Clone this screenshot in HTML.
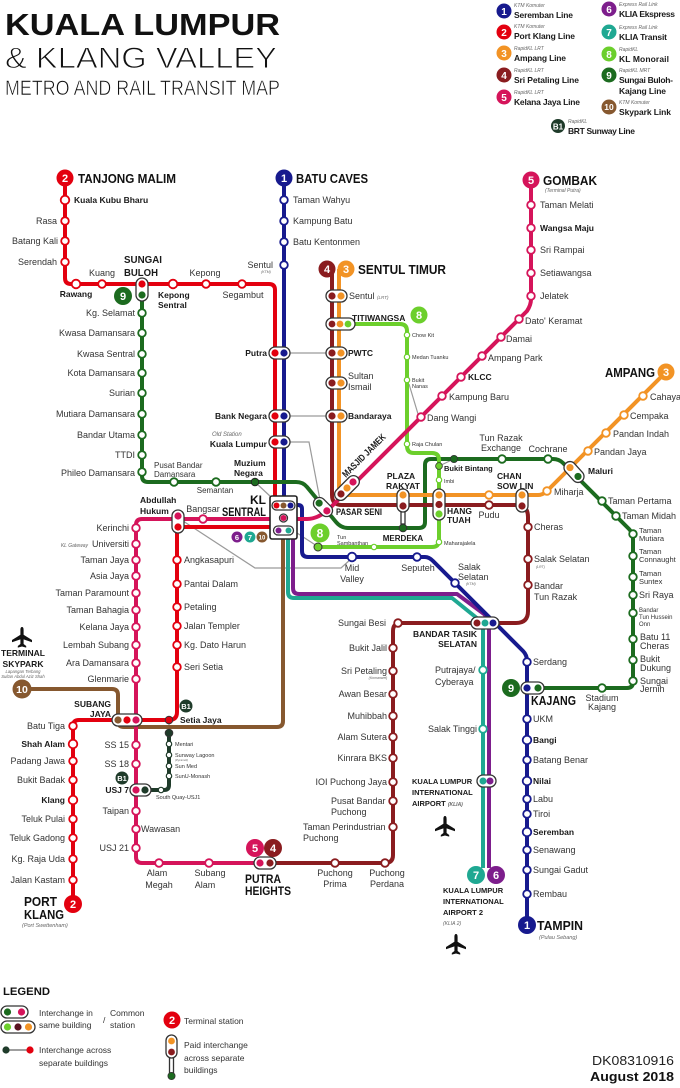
<!DOCTYPE html>
<html><head><meta charset="utf-8">
<style>
html,body{margin:0;padding:0;background:#fff;}
svg{display:block}
text{font-family:"Liberation Sans",Arial,sans-serif;fill:#333;font-size:9px}
.b{font-weight:bold;fill:#1a1a1a;font-size:8.5px}
.e{text-anchor:end}
.m{text-anchor:middle}
.t{font-size:5.5px}
.i{font-style:italic;font-size:5px;fill:#666}
.T{font-weight:bold;fill:#111;font-size:13px}
.bn{font-weight:bold;fill:#fff;font-size:11px;text-anchor:middle}
.ln{fill:none;stroke-width:4;stroke-linejoin:round}
.st{fill:#fff;stroke-width:1.8}
.ss{fill:#fff;stroke-width:1.2}
.pl{fill:#fff;stroke:#333;stroke-width:1.3}
.gc{fill:none;stroke:#9a9a9a;stroke-width:1.2}
.lg{font-size:8.5px;fill:#333}
</style></head><body>
<svg xmlns="http://www.w3.org/2000/svg" width="680" height="1088" viewBox="0 0 680 1088">
<defs>
<path id="plane" d="M0,-10 C1.2,-10 1.6,-8.8 1.6,-7 L1.6,-2.2 L10,3 L10,5.2 L1.6,2.4 L1.6,7 L4.2,9 L4.2,10.6 L0,9.5 L-4.2,10.6 L-4.2,9 L-1.6,7 L-1.6,2.4 L-10,5.2 L-10,3 L-1.6,-2.2 L-1.6,-7 C-1.6,-8.8 -1.2,-10 0,-10 Z" fill="#111"/>
</defs>

<!-- TITLE -->
<text x="5" y="35" style="font-weight:bold;font-size:31px;fill:#111" textLength="275" lengthAdjust="spacingAndGlyphs">KUALA LUMPUR</text>
<text x="5" y="68" style="font-size:30px;fill:#111;stroke:#fff;stroke-width:0.9" textLength="272" lengthAdjust="spacingAndGlyphs">&amp; KLANG VALLEY</text>
<text x="5" y="95" style="font-size:21px;fill:#111;stroke:#fff;stroke-width:0.6" textLength="275" lengthAdjust="spacingAndGlyphs">METRO AND RAIL TRANSIT MAP</text>

<!-- TOP RIGHT LEGEND -->
<g>
<circle cx="504" cy="11" r="7.5" fill="#171a8e"/><text x="504" y="15" class="bn" style="font-size:10px">1</text>
<text x="514" y="7" class="i">KTM Komuter</text><text x="514" y="18" class="b" style="font-size:8.5px" textLength="59">Seremban Line</text>
<circle cx="504" cy="32" r="7.5" fill="#e3000f"/><text x="504" y="36" class="bn" style="font-size:10px">2</text>
<text x="514" y="28" class="i">KTM Komuter</text><text x="514" y="39" class="b" textLength="61">Port Klang Line</text>
<circle cx="504" cy="53" r="7.5" fill="#f29325"/><text x="504" y="57" class="bn" style="font-size:10px">3</text>
<text x="514" y="50" class="i">RapidKL LRT</text><text x="514" y="61" class="b" textLength="52">Ampang Line</text>
<circle cx="504" cy="75" r="7.5" fill="#8a1c1f"/><text x="504" y="79" class="bn" style="font-size:10px">4</text>
<text x="514" y="72" class="i">RapidKL LRT</text><text x="514" y="83" class="b" textLength="65">Sri Petaling Line</text>
<circle cx="504" cy="97" r="7.5" fill="#d5145a"/><text x="504" y="101" class="bn" style="font-size:10px">5</text>
<text x="514" y="94" class="i">RapidKL LRT</text><text x="514" y="105" class="b" textLength="66">Kelana Jaya Line</text>

<circle cx="609" cy="9" r="7.5" fill="#7d1e8c"/><text x="609" y="13" class="bn" style="font-size:10px">6</text>
<text x="619" y="6" class="i">Express Rail Link</text><text x="619" y="17" class="b" textLength="56">KLIA Ekspress</text>
<circle cx="609" cy="32" r="7.5" fill="#1fa892"/><text x="609" y="36" class="bn" style="font-size:10px">7</text>
<text x="619" y="29" class="i">Express Rail Link</text><text x="619" y="40" class="b" textLength="48">KLIA Transit</text>
<circle cx="609" cy="54" r="7.5" fill="#6ccf2c"/><text x="609" y="58" class="bn" style="font-size:10px">8</text>
<text x="619" y="51" class="i">RapidKL</text><text x="619" y="62" class="b" textLength="50">KL Monorail</text>
<circle cx="609" cy="75" r="7.5" fill="#1c6b1f"/><text x="609" y="79" class="bn" style="font-size:10px">9</text>
<text x="619" y="72" class="i">RapidKL MRT</text><text x="619" y="83" class="b" textLength="54">Sungai Buloh-</text>
<text x="619" y="94" class="b" textLength="47">Kajang Line</text>
<circle cx="609" cy="107" r="7.5" fill="#86582f"/><text x="609" y="110" class="bn" style="font-size:8.5px">10</text>
<text x="619" y="104" class="i">KTM Komuter</text><text x="619" y="115" class="b" textLength="52">Skypark Link</text>
<circle cx="558" cy="126" r="7" fill="#1f3b2a"/><text x="558" y="129.5" class="bn" style="font-size:8px">B1</text>
<text x="568" y="123" class="i">RapidKL</text><text x="568" y="134" class="b" textLength="67">BRT Sunway Line</text>
</g>

<!-- GRAY CONNECTORS -->
<g class="gc">
<path d="M288,353 H329"/>
<path d="M288,416 H329"/>
<path d="M288,442 H309 L320,500"/>
<path d="M256,483 L271,497"/>
<path d="M180,519 L255,568 H341 L351,559"/>
<path d="M297,533 L317,546"/>
<path d="M409,384 L418,414"/>
<path d="M169,720 V733"/>
<path d="M439,466 L454,459"/>
</g>

<!-- LINES -->
<path class="ln" stroke="#86582f" d="M22,689 H112 Q118,689 118,695 V721 Q118,727 124,727 H277 Q283,727 283,721 V530"/>
<path class="ln" stroke="#1fa892" d="M288,530 V592 Q288,598 294,598 H452 L478,619 Q483,623 483,629 V868"/>
<path class="ln" stroke="#7d1e8c" d="M293,530 V588 Q293,594 299,594 H457 L484,614 Q489,619 489,626 V868"/>
<path class="ln" stroke="#e3000f" d="M65,178 V278 Q65,284 71,284 H269 Q275,284 275,290 V527 H182 Q177,527 177,532 V712 Q177,720 169,720 H79 Q73,720 73,726 V904"/>
<path class="ln" stroke="#171a8e" d="M284,178 V505 H298 Q302,505 302,509 V551 Q302,557 308,557 H425 Q429,557 433,561 L523,651 Q527,655 527,661 V925"/>
<path class="ln" stroke="#1c6b1f" d="M142,290 V476 Q142,482 148,482 H296 Q303,482 307,487 L336,522 Q341,528 348,528 H419 Q425,528 425,522 V465 Q425,459 431,459 H553 Q559,459 563,463 L629,529 Q633,533 633,539 V682 Q633,688 627,688 H527"/>
<path class="ln" stroke="#6ccf2c" d="M348,324 H400 Q407,324 407,331 V446 Q407,453 414,453 H432 Q439,453 439,460 V540 Q439,547 432,547 H318"/>
<path class="ln" stroke="#8a1c1f" d="M332,269 V495 Q332,505 342,505 H516 Q528,505 528,517 V611 Q528,623 516,623 H401 Q393,623 393,631 V855 Q393,863 385,863 H265"/>
<path class="ln" stroke="#f29325" d="M339,269 V487 Q339,495 347,495 H538 Q542,495 546,492 L666,372"/>
<path class="ln" stroke="#d5145a" d="M531,180 V299 Q531,305 527,311 L331,507 Q319,519 307,519 H142 Q136,519 136,525 V857 Q136,863 142,863 H262"/>
<path class="ln" stroke="#1f3b2a" d="M169,733 V785 Q169,790 164,790 H145"/>

<!-- STATIONS -->
<g class="st" stroke="#e3000f">
<circle cx="65" cy="200" r="4.3"/><circle cx="65" cy="221" r="3.8"/><circle cx="65" cy="241" r="3.8"/><circle cx="65" cy="262" r="3.8"/>
<circle cx="76" cy="284" r="4.3"/><circle cx="102" cy="284" r="3.8"/><circle cx="173" cy="284" r="4.3"/><circle cx="206" cy="284" r="3.8"/><circle cx="242" cy="284" r="3.8"/>
<circle cx="177" cy="560" r="3.8"/><circle cx="177" cy="584" r="3.8"/><circle cx="177" cy="607" r="3.8"/><circle cx="177" cy="626" r="3.8"/><circle cx="177" cy="645" r="3.8"/><circle cx="177" cy="667" r="3.8"/>
<circle cx="73" cy="726" r="3.8"/><circle cx="73" cy="744" r="4.3"/><circle cx="73" cy="761" r="3.8"/><circle cx="73" cy="780" r="3.8"/><circle cx="73" cy="800" r="4.3"/><circle cx="73" cy="819" r="3.8"/><circle cx="73" cy="838" r="3.8"/><circle cx="73" cy="859" r="3.8"/><circle cx="73" cy="880" r="3.8"/>
</g>
<g class="st" stroke="#171a8e">
<circle cx="284" cy="200" r="3.8"/><circle cx="284" cy="221" r="3.8"/><circle cx="284" cy="242" r="3.8"/><circle cx="284" cy="265" r="3.8"/>
<circle cx="352" cy="557" r="4.3"/><circle cx="417" cy="557" r="3.8"/><circle cx="455" cy="583" r="3.8"/>
<circle cx="527" cy="662" r="3.8"/><circle cx="527" cy="719" r="3.8"/><circle cx="527" cy="740" r="4.3"/><circle cx="527" cy="760" r="3.8"/><circle cx="527" cy="781" r="4.3"/><circle cx="527" cy="799" r="3.8"/><circle cx="527" cy="814" r="3.8"/><circle cx="527" cy="832" r="4.3"/><circle cx="527" cy="850" r="3.8"/><circle cx="527" cy="870" r="3.8"/><circle cx="527" cy="894" r="3.8"/>
</g>
<g class="st" stroke="#1c6b1f">
<circle cx="142" cy="313" r="3.8"/><circle cx="142" cy="333" r="3.8"/><circle cx="142" cy="354" r="3.8"/><circle cx="142" cy="373" r="3.8"/><circle cx="142" cy="393" r="3.8"/><circle cx="142" cy="414" r="3.8"/><circle cx="142" cy="435" r="3.8"/><circle cx="142" cy="455" r="3.8"/><circle cx="142" cy="472" r="3.8"/>
<circle cx="174" cy="482" r="3.8"/><circle cx="216" cy="482" r="3.8"/>
<circle cx="502" cy="459" r="3.8"/><circle cx="548" cy="459" r="3.8"/>
<circle cx="602" cy="501" r="3.8"/><circle cx="616" cy="516" r="3.8"/><circle cx="633" cy="534" r="3.8"/><circle cx="633" cy="556" r="3.8"/><circle cx="633" cy="577" r="3.8"/><circle cx="633" cy="595" r="3.8"/><circle cx="633" cy="613" r="3.8"/><circle cx="633" cy="639" r="3.8"/><circle cx="633" cy="660" r="3.8"/><circle cx="633" cy="681" r="3.8"/>
<circle cx="602" cy="688" r="3.8"/>
</g>
<g class="st" stroke="#d5145a">
<circle cx="531" cy="205" r="3.8"/><circle cx="531" cy="228" r="3.8"/><circle cx="531" cy="250" r="3.8"/><circle cx="531" cy="273" r="3.8"/><circle cx="531" cy="296" r="3.8"/>
<circle cx="519" cy="319" r="3.8"/><circle cx="501" cy="337" r="3.8"/><circle cx="482" cy="356" r="3.8"/><circle cx="461" cy="377" r="3.8"/><circle cx="442" cy="396" r="3.8"/><circle cx="421" cy="417" r="3.8"/>
<circle cx="203" cy="519" r="3.8"/>
<circle cx="136" cy="528" r="3.8"/><circle cx="136" cy="544" r="3.8"/><circle cx="136" cy="560" r="3.8"/><circle cx="136" cy="576" r="3.8"/><circle cx="136" cy="593" r="3.8"/><circle cx="136" cy="610" r="3.8"/><circle cx="136" cy="627" r="3.8"/><circle cx="136" cy="645" r="3.8"/><circle cx="136" cy="663" r="3.8"/><circle cx="136" cy="679" r="3.8"/>
<circle cx="136" cy="745" r="3.8"/><circle cx="136" cy="764" r="3.8"/><circle cx="136" cy="811" r="3.8"/><circle cx="136" cy="829" r="3.8"/><circle cx="136" cy="848" r="3.8"/>
<circle cx="159" cy="863" r="3.8"/><circle cx="209" cy="863" r="3.8"/>
</g>
<g class="st" stroke="#8a1c1f">
<circle cx="489" cy="505" r="3.8"/><circle cx="528" cy="527" r="3.8"/><circle cx="528" cy="559" r="3.8"/><circle cx="528" cy="585" r="3.8"/>
<circle cx="398" cy="623" r="3.8"/><circle cx="393" cy="648" r="3.8"/><circle cx="393" cy="671" r="3.8"/><circle cx="393" cy="694" r="3.8"/><circle cx="393" cy="716" r="3.8"/><circle cx="393" cy="737" r="3.8"/><circle cx="393" cy="758" r="3.8"/><circle cx="393" cy="782" r="3.8"/><circle cx="393" cy="801" r="3.8"/><circle cx="393" cy="827" r="3.8"/>
<circle cx="385" cy="863" r="3.8"/><circle cx="335" cy="863" r="3.8"/>
</g>
<g class="st" stroke="#f29325">
<circle cx="489" cy="495" r="3.8"/><circle cx="547" cy="491" r="3.8"/><circle cx="588" cy="451" r="3.8"/><circle cx="606" cy="433" r="3.8"/><circle cx="624" cy="415" r="3.8"/><circle cx="643" cy="396" r="3.8"/>
</g>
<g class="st" stroke="#1fa892">
<circle cx="483" cy="670" r="3.8"/><circle cx="483" cy="729" r="3.8"/>
</g>
<g class="ss" stroke="#6ccf2c">
<circle cx="407" cy="335" r="2.7"/><circle cx="407" cy="357" r="2.7"/><circle cx="407" cy="380" r="2.7"/><circle cx="407" cy="444" r="2.7"/><circle cx="439" cy="480" r="2.7"/><circle cx="439" cy="542" r="2.7"/><circle cx="374" cy="547" r="2.7"/>
</g>
<g class="ss" stroke="#1f3b2a">
<circle cx="169" cy="744" r="2.7"/><circle cx="169" cy="755" r="2.7"/><circle cx="169" cy="766" r="2.7"/><circle cx="169" cy="776" r="2.7"/><circle cx="161" cy="790" r="2.7"/>
</g>

<!-- INTERCHANGE PILLS -->
<g>
<rect x="136" y="278" width="12" height="23" rx="6" class="pl"/><circle cx="142" cy="284" r="3.6" fill="#e3000f"/><circle cx="142" cy="295" r="3.6" fill="#1c6b1f"/>
<rect x="269" y="347" width="21" height="12" rx="6" class="pl"/><circle cx="275" cy="353" r="3.6" fill="#e3000f"/><circle cx="284" cy="353" r="3.6" fill="#171a8e"/>
<rect x="269" y="410" width="21" height="12" rx="6" class="pl"/><circle cx="275" cy="416" r="3.6" fill="#e3000f"/><circle cx="284" cy="416" r="3.6" fill="#171a8e"/>
<rect x="269" y="436" width="21" height="12" rx="6" class="pl"/><circle cx="275" cy="442" r="3.6" fill="#e3000f"/><circle cx="284" cy="442" r="3.6" fill="#171a8e"/>
<rect x="326" y="290" width="21" height="12" rx="6" class="pl"/><circle cx="332" cy="296" r="3.6" fill="#8a1c1f"/><circle cx="341" cy="296" r="3.6" fill="#f29325"/>
<rect x="326" y="318" width="29" height="12" rx="6" class="pl"/><circle cx="332" cy="324" r="3.4" fill="#8a1c1f"/><circle cx="340" cy="324" r="3.4" fill="#f29325"/><circle cx="348" cy="324" r="3.4" fill="#6ccf2c"/>
<rect x="326" y="347" width="21" height="12" rx="6" class="pl"/><circle cx="332" cy="353" r="3.6" fill="#8a1c1f"/><circle cx="341" cy="353" r="3.6" fill="#f29325"/>
<rect x="326" y="377" width="21" height="12" rx="6" class="pl"/><circle cx="332" cy="383" r="3.6" fill="#8a1c1f"/><circle cx="341" cy="383" r="3.6" fill="#f29325"/>
<rect x="326" y="410" width="21" height="12" rx="6" class="pl"/><circle cx="332" cy="416" r="3.6" fill="#8a1c1f"/><circle cx="341" cy="416" r="3.6" fill="#f29325"/>
<g transform="translate(347,488) rotate(-45)"><rect x="-15" y="-6" width="30" height="12" rx="6" class="pl"/><circle cx="-8.5" cy="0" r="3.6" fill="#8a1c1f"/><circle cx="0" cy="0" r="3.6" fill="#f29325"/><circle cx="8.5" cy="0" r="3.6" fill="#d5145a"/></g>
<g transform="translate(323,507) rotate(45)"><rect x="-11" y="-6" width="22" height="12" rx="6" class="pl"/><circle cx="-5.5" cy="0" r="3.6" fill="#1c6b1f"/><circle cx="5.5" cy="0" r="3.6" fill="#d5145a"/></g>
<rect x="401" y="510" width="4" height="14" class="pl"/>
<rect x="397" y="489" width="12" height="23" rx="6" class="pl"/><circle cx="403" cy="495" r="3.6" fill="#f29325"/><circle cx="403" cy="506" r="3.6" fill="#8a1c1f"/>
<circle cx="403" cy="528" r="3.8" fill="#1c6b1f" stroke="#333" stroke-width="1"/>
<rect x="433" y="489" width="12" height="31" rx="6" class="pl"/><circle cx="439" cy="495" r="3.6" fill="#f29325"/><circle cx="439" cy="504.5" r="3.6" fill="#8a1c1f"/><circle cx="439" cy="514" r="3.6" fill="#6ccf2c"/>
<rect x="516" y="489" width="12" height="23" rx="6" class="pl"/><circle cx="522" cy="495" r="3.6" fill="#f29325"/><circle cx="522" cy="506" r="3.6" fill="#8a1c1f"/>
<g transform="translate(574,472) rotate(48)"><rect x="-12" y="-6" width="24" height="12" rx="6" class="pl"/><circle cx="-6" cy="0" r="3.6" fill="#f29325"/><circle cx="6" cy="0" r="3.6" fill="#1c6b1f"/></g>
<circle cx="454" cy="459" r="3.6" fill="#1c6b1f" stroke="#333" stroke-width="0.8"/>
<circle cx="439" cy="466" r="3.4" fill="#6ccf2c" stroke="#333" stroke-width="0.8"/>
<circle cx="255" cy="482" r="3.8" fill="#1c6b1f" stroke="#222" stroke-width="1"/>
<circle cx="318" cy="547" r="4" fill="#6ccf2c" stroke="#333" stroke-width="1"/>
<rect x="172" y="510" width="12" height="23" rx="6" class="pl"/><circle cx="178" cy="516" r="3.6" fill="#d5145a"/><circle cx="178" cy="527" r="3.6" fill="#e3000f"/>
<rect x="112" y="714" width="30" height="12" rx="6" class="pl"/><circle cx="118" cy="720" r="3.6" fill="#86582f"/><circle cx="127" cy="720" r="3.6" fill="#e3000f"/><circle cx="136" cy="720" r="3.6" fill="#d5145a"/>
<circle cx="169" cy="720" r="3.8" fill="#e3000f" stroke="#333" stroke-width="1"/>
<circle cx="169" cy="733" r="3.8" fill="#1f3b2a" stroke="#333" stroke-width="1"/>
<rect x="130" y="784" width="21" height="12" rx="6" class="pl"/><circle cx="136" cy="790" r="3.6" fill="#d5145a"/><circle cx="145" cy="790" r="3.6" fill="#1f3b2a"/>
<rect x="254" y="857" width="22" height="12" rx="6" class="pl"/><circle cx="260" cy="863" r="3.6" fill="#d5145a"/><circle cx="270" cy="863" r="3.6" fill="#8a1c1f"/>
<rect x="471" y="617" width="28" height="12" rx="6" class="pl"/><circle cx="477" cy="623" r="3.5" fill="#8a1c1f"/><circle cx="485" cy="623" r="3.5" fill="#1fa892"/><circle cx="493" cy="623" r="3.5" fill="#171a8e"/>
<rect x="477" y="775" width="19" height="12" rx="6" class="pl"/><circle cx="483" cy="781" r="3.5" fill="#1fa892"/><circle cx="490" cy="781" r="3.5" fill="#7d1e8c"/>
<rect x="521" y="682" width="23" height="12" rx="6" class="pl"/><circle cx="527" cy="688" r="3.6" fill="#171a8e"/><circle cx="538" cy="688" r="3.6" fill="#1c6b1f"/>
<!-- KL Sentral box -->
<rect x="270" y="496" width="27" height="43" rx="2" fill="#fff" stroke="#222" stroke-width="1.6"/>
<rect x="272" y="501" width="23" height="9" rx="4.5" class="pl" stroke-width="0.9"/>
<circle cx="276.5" cy="505.5" r="3" fill="#e3000f"/><circle cx="283.5" cy="505.5" r="3" fill="#86582f"/><circle cx="290.5" cy="505.5" r="3" fill="#171a8e"/>
<circle cx="283.5" cy="518" r="4" class="pl" stroke-width="0.9"/><circle cx="283.5" cy="518" r="3" fill="#d5145a"/>
<rect x="273.5" y="526" width="20" height="9" rx="4.5" class="pl" stroke-width="0.9"/>
<circle cx="278.5" cy="530.5" r="3" fill="#7d1e8c"/><circle cx="288.5" cy="530.5" r="3" fill="#1fa892"/>
</g>

<!-- BADGES -->
<g>
<circle cx="65" cy="178" r="8.5" fill="#e3000f"/><text x="65" y="182" class="bn">2</text>
<circle cx="284" cy="178" r="8.5" fill="#171a8e"/><text x="284" y="182" class="bn">1</text>
<circle cx="327" cy="269" r="8.5" fill="#8a1c1f"/><text x="327" y="273" class="bn">4</text>
<circle cx="346" cy="269" r="8.5" fill="#f29325"/><text x="346" y="273" class="bn">3</text>
<circle cx="531" cy="180" r="8.5" fill="#d5145a"/><text x="531" y="184" class="bn">5</text>
<circle cx="419" cy="315" r="8.5" fill="#6ccf2c"/><text x="419" y="319" class="bn">8</text>
<circle cx="666" cy="372" r="8.5" fill="#f29325"/><text x="666" y="376" class="bn">3</text>
<circle cx="123" cy="296" r="9" fill="#1c6b1f"/><text x="123" y="300" class="bn">9</text>
<circle cx="320" cy="533" r="9.5" fill="#6ccf2c"/><text x="320" y="537.5" class="bn" style="font-size:12px">8</text>
<circle cx="237" cy="537" r="5.5" fill="#7d1e8c"/><text x="237" y="540" class="bn" style="font-size:7.5px">6</text>
<circle cx="250" cy="537" r="5.5" fill="#1fa892"/><text x="250" y="540" class="bn" style="font-size:7.5px">7</text>
<circle cx="262" cy="537" r="5.5" fill="#86582f"/><text x="262" y="539.5" class="bn" style="font-size:6px">10</text>
<circle cx="22" cy="689" r="9.5" fill="#86582f"/><text x="22" y="693" class="bn" style="font-size:10.5px">10</text>
<circle cx="186" cy="706" r="6.5" fill="#1f3b2a"/><text x="186" y="709" class="bn" style="font-size:7.5px">B1</text>
<circle cx="122" cy="778" r="6.5" fill="#1f3b2a"/><text x="122" y="781" class="bn" style="font-size:7.5px">B1</text>
<circle cx="511" cy="688" r="9" fill="#1c6b1f"/><text x="511" y="692" class="bn">9</text>
<circle cx="255" cy="848" r="9" fill="#d5145a"/><text x="255" y="852" class="bn">5</text>
<circle cx="273" cy="848" r="9" fill="#8a1c1f"/><text x="273" y="852" class="bn">4</text>
<circle cx="476" cy="875" r="9" fill="#1fa892"/><text x="476" y="879" class="bn">7</text>
<circle cx="496" cy="875" r="9" fill="#7d1e8c"/><text x="496" y="879" class="bn">6</text>
<circle cx="527" cy="925" r="9" fill="#171a8e"/><text x="527" y="929" class="bn">1</text>
<circle cx="73" cy="904" r="9" fill="#e3000f"/><text x="73" y="908" class="bn">2</text>
</g>

<!-- TERMINAL LABELS -->
<text x="78" y="183" class="T" textLength="98" lengthAdjust="spacingAndGlyphs">TANJONG MALIM</text>
<text x="296" y="183" class="T" textLength="72" lengthAdjust="spacingAndGlyphs">BATU CAVES</text>
<text x="358" y="274" class="T" textLength="88" lengthAdjust="spacingAndGlyphs">SENTUL TIMUR</text>
<text x="543" y="185" class="T" textLength="54" lengthAdjust="spacingAndGlyphs">GOMBAK</text>
<text x="545" y="192" class="i" style="font-size:5px">(Terminal Putra)</text>
<text x="605" y="377" class="T" textLength="50" lengthAdjust="spacingAndGlyphs">AMPANG</text>
<text x="531" y="705" class="T" textLength="45" lengthAdjust="spacingAndGlyphs">KAJANG</text>
<text x="537" y="930" class="T" textLength="46" lengthAdjust="spacingAndGlyphs">TAMPIN</text>
<text x="539" y="939" class="i" style="font-size:5.5px">(Pulau Sebang)</text>
<text x="24" y="906" class="T" textLength="33" lengthAdjust="spacingAndGlyphs">PORT</text>
<text x="24" y="919" class="T" textLength="40" lengthAdjust="spacingAndGlyphs">KLANG</text>
<text x="22" y="927" class="i" style="font-size:5.5px">(Port Swettenham)</text>
<text x="245" y="883" class="T" style="font-size:12px" textLength="36" lengthAdjust="spacingAndGlyphs">PUTRA</text>
<text x="245" y="895" class="T" style="font-size:12px" textLength="46" lengthAdjust="spacingAndGlyphs">HEIGHTS</text>
<text x="266" y="504" class="T e" style="font-size:12px">KL</text>
<text x="266" y="516" class="T e" style="font-size:12px" textLength="44" lengthAdjust="spacingAndGlyphs">SENTRAL</text>
<text x="124" y="263" class="b" style="font-size:10px" textLength="38" lengthAdjust="spacingAndGlyphs">SUNGAI</text>
<text x="124" y="276" class="b" style="font-size:10px" textLength="34" lengthAdjust="spacingAndGlyphs">BULOH</text>

<!-- LINE 2 LABELS -->
<text x="74" y="203" class="b">Kuala Kubu Bharu</text>
<text x="57" y="224" class="e">Rasa</text>
<text x="58" y="244" class="e">Batang Kali</text>
<text x="57" y="265" class="e">Serendah</text>
<text x="102" y="276" class="m">Kuang</text>
<text x="76" y="297" class="b m">Rawang</text>
<text x="158" y="298" class="b">Kepong</text>
<text x="158" y="308" class="b">Sentral</text>
<text x="205" y="276" class="m">Kepong</text>
<text x="243" y="298" class="m">Segambut</text>
<text x="273" y="268" class="e">Sentul</text>
<text x="266" y="273" class="i m" style="font-size:3.5px">(KTM)</text>
<text x="184" y="563">Angkasapuri</text>
<text x="184" y="587">Pantai Dalam</text>
<text x="184" y="610">Petaling</text>
<text x="184" y="629">Jalan Templer</text>
<text x="184" y="648">Kg. Dato Harun</text>
<text x="184" y="670">Seri Setia</text>
<text x="180" y="723" class="b">Setia Jaya</text>
<text x="65" y="729" class="e">Batu Tiga</text>
<text x="65" y="747" class="b e">Shah Alam</text>
<text x="65" y="764" class="e">Padang Jawa</text>
<text x="65" y="783" class="e">Bukit Badak</text>
<text x="65" y="803" class="b e">Klang</text>
<text x="65" y="822" class="e">Teluk Pulai</text>
<text x="65" y="841" class="e">Teluk Gadong</text>
<text x="65" y="862" class="e">Kg. Raja Uda</text>
<text x="65" y="883" class="e">Jalan Kastam</text>

<!-- LINE 1 LABELS -->
<text x="293" y="203">Taman Wahyu</text>
<text x="293" y="224">Kampung Batu</text>
<text x="293" y="245">Batu Kentonmen</text>
<text x="267" y="356" class="b e">Putra</text>
<text x="267" y="419" class="b e">Bank Negara</text>
<text x="212" y="436" class="i" style="font-size:6px">Old Station</text>
<text x="267" y="447" class="b e">Kuala Lumpur</text>
<text x="352" y="571" class="m">Mid</text>
<text x="352" y="582" class="m">Valley</text>
<text x="418" y="571" class="m">Seputeh</text>
<text x="458" y="570">Salak</text>
<text x="458" y="580">Selatan</text>
<text x="466" y="585" class="i" style="font-size:3.5px">(KTM)</text>
<text x="533" y="665">Serdang</text>
<text x="533" y="722">UKM</text>
<text x="533" y="743" class="b">Bangi</text>
<text x="533" y="763">Batang Benar</text>
<text x="533" y="784" class="b">Nilai</text>
<text x="533" y="802">Labu</text>
<text x="533" y="817">Tiroi</text>
<text x="533" y="835" class="b">Seremban</text>
<text x="533" y="853">Senawang</text>
<text x="533" y="873">Sungai Gadut</text>
<text x="533" y="897">Rembau</text>

<!-- LINE 9 LABELS -->
<text x="135" y="316" class="e">Kg. Selamat</text>
<text x="135" y="336" class="e">Kwasa Damansara</text>
<text x="135" y="357" class="e">Kwasa Sentral</text>
<text x="135" y="376" class="e">Kota Damansara</text>
<text x="135" y="396" class="e">Surian</text>
<text x="135" y="417" class="e">Mutiara Damansara</text>
<text x="135" y="438" class="e">Bandar Utama</text>
<text x="135" y="458" class="e">TTDI</text>
<text x="135" y="476" class="e">Phileo Damansara</text>
<text x="154" y="468" style="font-size:8px">Pusat Bandar</text>
<text x="154" y="477" style="font-size:8px">Damansara</text>
<text x="215" y="493" class="m" style="font-size:8px">Semantan</text>
<text x="234" y="466" class="b">Muzium</text>
<text x="234" y="476" class="b">Negara</text>
<text x="403" y="541" class="b m" style="font-size:8px">MERDEKA</text>
<text x="501" y="441" class="m">Tun Razak</text>
<text x="501" y="451" class="m">Exchange</text>
<text x="548" y="452" class="m">Cochrane</text>
<text x="588" y="474" class="b">Maluri</text>
<text x="608" y="504">Taman Pertama</text>
<text x="622" y="519">Taman Midah</text>
<text x="639" y="533" style="font-size:7.5px">Taman</text>
<text x="639" y="541" style="font-size:7.5px">Mutiara</text>
<text x="639" y="554" style="font-size:7.5px">Taman</text>
<text x="639" y="562" style="font-size:7.5px">Connaught</text>
<text x="639" y="576" style="font-size:7.5px">Taman</text>
<text x="639" y="584" style="font-size:7.5px">Suntex</text>
<text x="639" y="598">Sri Raya</text>
<text x="639" y="612" style="font-size:6px">Bandar</text>
<text x="639" y="619" style="font-size:6px">Tun Hussein</text>
<text x="639" y="626" style="font-size:6px">Onn</text>
<text x="640" y="640">Batu 11</text>
<text x="640" y="649">Cheras</text>
<text x="640" y="662">Bukit</text>
<text x="640" y="671">Dukung</text>
<text x="640" y="684">Sungai</text>
<text x="640" y="692">Jernih</text>
<text x="602" y="701" class="m">Stadium</text>
<text x="602" y="710" class="m">Kajang</text>

<!-- LINE 3/4 LABELS -->
<text x="349" y="299">Sentul <tspan class="i" style="font-size:4.5px">(LRT)</tspan></text>
<text x="352" y="321" class="b">TITIWANGSA</text>
<text x="348" y="356" class="b">PWTC</text>
<text x="348" y="379">Sultan</text>
<text x="348" y="390">Ismail</text>
<text x="348" y="419" class="b">Bandaraya</text>
<text x="346" y="478" transform="rotate(-45 346 478)" class="b" style="font-size:9.5px" textLength="57" lengthAdjust="spacingAndGlyphs">MASJID JAMEK</text>
<text x="336" y="515" class="b" style="font-size:9px" textLength="46" lengthAdjust="spacingAndGlyphs">PASAR SENI</text>
<text x="401" y="479" class="b m">PLAZA</text>
<text x="403" y="489" class="b m">RAKYAT</text>
<text x="447" y="514" class="b">HANG</text>
<text x="447" y="523" class="b">TUAH</text>
<text x="497" y="479" class="b">CHAN</text>
<text x="497" y="489" class="b">SOW LIN</text>
<text x="489" y="518" class="m">Pudu</text>
<text x="554" y="495">Miharja</text>
<text x="594" y="455">Pandan Jaya</text>
<text x="613" y="437">Pandan Indah</text>
<text x="630" y="419">Cempaka</text>
<text x="650" y="400">Cahaya</text>
<text x="534" y="530">Cheras</text>
<text x="534" y="562">Salak Selatan</text>
<text x="536" y="568" class="i" style="font-size:3.5px">(LRT)</text>
<text x="534" y="589">Bandar</text>
<text x="534" y="600">Tun Razak</text>
<text x="386" y="626" class="e">Sungai Besi</text>
<text x="477" y="637" class="b e">BANDAR TASIK</text>
<text x="477" y="647" class="b e">SELATAN</text>
<text x="387" y="651" class="e">Bukit Jalil</text>
<text x="387" y="674" class="e">Sri Petaling</text>
<text x="378" y="679" class="i m" style="font-size:3.5px">(Komanwel)</text>
<text x="387" y="697" class="e">Awan Besar</text>
<text x="387" y="719" class="e">Muhibbah</text>
<text x="387" y="740" class="e">Alam Sutera</text>
<text x="387" y="761" class="e">Kinrara BKS</text>
<text x="387" y="785" class="e">IOI Puchong Jaya</text>
<text x="331" y="804">Pusat Bandar</text>
<text x="331" y="815">Puchong</text>
<text x="303" y="830">Taman Perindustrian</text>
<text x="303" y="841">Puchong</text>
<text x="335" y="876" class="m">Puchong</text>
<text x="335" y="887" class="m">Prima</text>
<text x="387" y="876" class="m">Puchong</text>
<text x="387" y="887" class="m">Perdana</text>

<!-- MONORAIL LABELS -->
<text x="412" y="337" class="t">Chow Kit</text>
<text x="412" y="359" class="t">Medan Tuanku</text>
<text x="412" y="382" class="t">Bukit</text>
<text x="412" y="388" class="t">Nanas</text>
<text x="412" y="446" class="t">Raja Chulan</text>
<text x="444" y="471" class="b" style="font-size:7.5px">Bukit Bintang</text>
<text x="444" y="483" class="t">Imbi</text>
<text x="444" y="545" class="t">Maharajalela</text>
<text x="337" y="539" class="t">Tun</text>
<text x="337" y="545" class="t">Sambanthan</text>

<!-- LINE 5 LABELS -->
<text x="540" y="208">Taman Melati</text>
<text x="540" y="231" class="b">Wangsa Maju</text>
<text x="540" y="253">Sri Rampai</text>
<text x="540" y="276">Setiawangsa</text>
<text x="540" y="299">Jelatek</text>
<text x="525" y="324">Dato' Keramat</text>
<text x="506" y="342">Damai</text>
<text x="488" y="361">Ampang Park</text>
<text x="468" y="380" class="b">KLCC</text>
<text x="449" y="400">Kampung Baru</text>
<text x="427" y="421">Dang Wangi</text>
<text x="203" y="512" class="m">Bangsar</text>
<text x="140" y="503" class="b">Abdullah</text>
<text x="140" y="514" class="b">Hukum</text>
<text x="129" y="531" class="e">Kerinchi</text>
<text x="88" y="547" class="i e" style="font-size:5px">KL Gateway</text>
<text x="129" y="547" class="e">Universiti</text>
<text x="129" y="563" class="e">Taman Jaya</text>
<text x="129" y="579" class="e">Asia Jaya</text>
<text x="129" y="596" class="e">Taman Paramount</text>
<text x="129" y="613" class="e">Taman Bahagia</text>
<text x="129" y="630" class="e">Kelana Jaya</text>
<text x="129" y="648" class="e">Lembah Subang</text>
<text x="129" y="666" class="e">Ara Damansara</text>
<text x="129" y="682" class="e">Glenmarie</text>
<text x="111" y="707" class="b e">SUBANG</text>
<text x="111" y="717" class="b e">JAYA</text>
<text x="129" y="748" class="e">SS 15</text>
<text x="129" y="767" class="e">SS 18</text>
<text x="129" y="793" class="b e">USJ 7</text>
<text x="129" y="814" class="e">Taipan</text>
<text x="141" y="832">Wawasan</text>
<text x="129" y="851" class="e">USJ 21</text>
<text x="157" y="876" class="m">Alam</text>
<text x="159" y="888" class="m">Megah</text>
<text x="210" y="876" class="m">Subang</text>
<text x="205" y="888" class="m">Alam</text>

<!-- BRT LABELS -->
<text x="175" y="746" class="t">Mentari</text>
<text x="175" y="757" class="t">Sunway Lagoon</text>
<text x="175" y="761" class="i" style="font-size:3px">(Pyramid)</text>
<text x="175" y="768" class="t">Sun Med</text>
<text x="175" y="778" class="t">SunU-Monash</text>
<text x="156" y="799" class="t">South Quay-USJ1</text>

<!-- SKYPARK / AIRPORTS -->
<use href="#plane" transform="translate(22,637)"/>
<text x="23" y="656" class="b m">TERMINAL</text>
<text x="23" y="667" class="b m">SKYPARK</text>
<text x="23" y="673" class="i m" style="font-size:4.2px">Lapangan Terbang</text>
<text x="23" y="678" class="i m" style="font-size:4.2px">Sultan Abdul Aziz Shah</text>
<text x="435" y="673">Putrajaya/</text>
<text x="435" y="685">Cyberaya</text>
<text x="477" y="732" class="e">Salak Tinggi</text>
<text x="412" y="784" class="b" style="font-size:7.5px">KUALA LUMPUR</text>
<text x="412" y="795" class="b" style="font-size:7.5px">INTERNATIONAL</text>
<text x="412" y="806" class="b" style="font-size:7.5px">AIRPORT <tspan class="i" style="font-size:5px">(KLIA)</tspan></text>
<use href="#plane" transform="translate(445,826)"/>
<text x="443" y="893" class="b" style="font-size:7.5px">KUALA LUMPUR</text>
<text x="443" y="904" class="b" style="font-size:7.5px">INTERNATIONAL</text>
<text x="443" y="915" class="b" style="font-size:7.5px">AIRPORT 2</text>
<text x="443" y="925" class="i" style="font-size:5px">(KLIA 2)</text>
<use href="#plane" transform="translate(456,944)"/>

<!-- BOTTOM LEGEND -->
<text x="3" y="995" class="T" style="font-size:11px" textLength="47" lengthAdjust="spacingAndGlyphs">LEGEND</text>
<rect x="1" y="1006" width="27" height="12" rx="6" class="pl"/><circle cx="7.5" cy="1012" r="3.6" fill="#1c6b1f"/><circle cx="21.5" cy="1012" r="3.6" fill="#d5145a"/>
<rect x="1" y="1021" width="34" height="12" rx="6" class="pl"/><circle cx="7.5" cy="1027" r="3.6" fill="#6ccf2c"/><circle cx="18" cy="1027" r="3.6" fill="#5a1420"/><circle cx="28.5" cy="1027" r="3.6" fill="#f29325"/>
<text x="39" y="1016" class="lg">Interchange in</text>
<text x="39" y="1028" class="lg">same building</text>
<text x="103" y="1023" class="lg">/</text>
<text x="110" y="1016" class="lg">Common</text>
<text x="110" y="1028" class="lg">station</text>
<path d="M6,1050 H30" stroke="#666" stroke-width="1.2"/>
<circle cx="6" cy="1050" r="3.6" fill="#1f3b2a"/><circle cx="30" cy="1050" r="3.6" fill="#e3000f"/>
<text x="39" y="1053" class="lg">Interchange across</text>
<text x="39" y="1066" class="lg">separate buildings</text>
<circle cx="172" cy="1020" r="8.5" fill="#e3000f"/><text x="172" y="1024" class="bn">2</text>
<text x="184" y="1024" class="lg">Terminal station</text>
<rect x="169.5" y="1056" width="4" height="17" class="pl"/>
<rect x="166" y="1035" width="11" height="23" rx="5.5" class="pl"/>
<circle cx="171.5" cy="1041" r="3.4" fill="#f29325"/><circle cx="171.5" cy="1052" r="3.4" fill="#8a1c1f"/>
<circle cx="171.5" cy="1076" r="3.6" fill="#1c6b1f" stroke="#333" stroke-width="0.8"/>
<text x="184" y="1048" class="lg">Paid interchange</text>
<text x="184" y="1061" class="lg">across separate</text>
<text x="184" y="1073" class="lg">buildings</text>
<text x="674" y="1065" class="e" style="font-size:13px;fill:#222" textLength="82" lengthAdjust="spacingAndGlyphs">DK08310916</text>
<text x="674" y="1081" class="e" style="font-size:12.5px;font-weight:bold;fill:#111" textLength="84" lengthAdjust="spacingAndGlyphs">August 2018</text>
</svg>
</body></html>
